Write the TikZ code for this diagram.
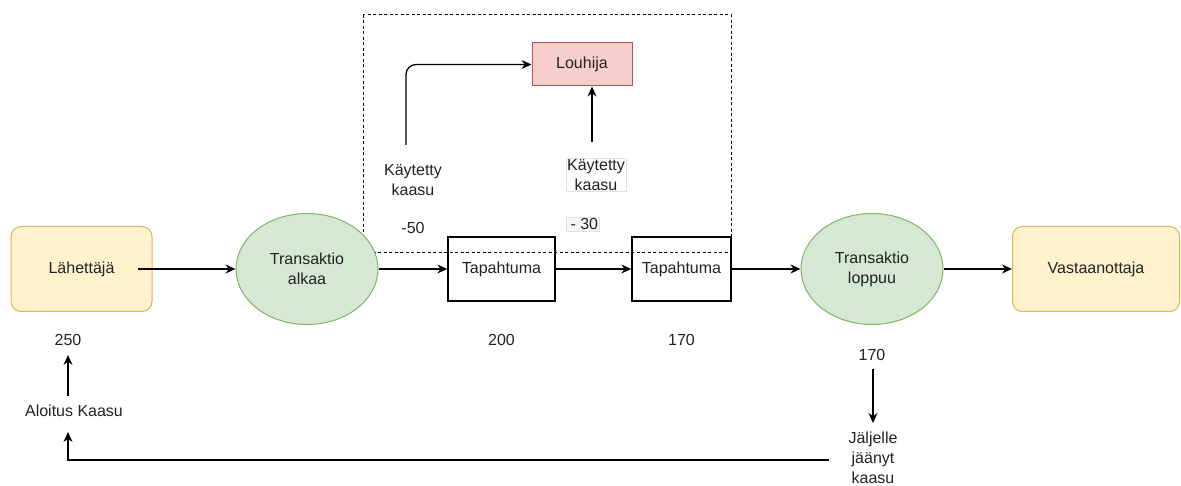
\documentclass[tikz,border=0pt]{standalone}
\usepackage{fontspec}
\setmainfont{Liberation Sans}
\usetikzlibrary{arrows.meta,shapes.geometric,calc}
\definecolor{yfill}{HTML}{FFF2CC}
\definecolor{ydraw}{HTML}{D6B656}
\definecolor{gfill}{HTML}{D5E8D4}
\definecolor{gdraw}{HTML}{82B366}
\definecolor{rfill}{HTML}{F8CECC}
\definecolor{rdraw}{HTML}{B85450}
\definecolor{txt}{HTML}{222222}
\begin{document}
\begin{tikzpicture}[x=1pt,y=-1pt,
  every node/.style={font=\fontsize{16}{20}\selectfont, text=txt, align=center},
  actor/.style={draw=ydraw, fill=yfill, rounded corners=10pt, line width=1pt, minimum width=141pt, minimum height=85pt},
  trans/.style={ellipse, draw=gdraw, fill=gfill, line width=1pt, minimum width=142pt, minimum height=111pt, inner sep=0pt},
  event/.style={draw=black, line width=1.3pt, minimum width=107pt, minimum height=64pt, inner sep=0pt},
  arr/.style={draw=black, line width=1.3pt, -{Stealth[length=10pt,width=9pt]}},
  lbl/.style={inner sep=1pt}
]
\useasboundingbox (0,0) rectangle (1181,486);
% dashed region
\draw[line width=1pt, dash pattern=on 3pt off 2.5pt] (363,15) rectangle (731,253);

\node[actor] (lah) at (81.5,269) {Lähettäjä};
\node[trans] (ta) at (307,269) {Transaktio\\alkaa};
\node[event] (t1) at (501.5,269) {Tapahtuma};
\node[event, minimum width=99pt] (t2) at (681.5,269) {Tapahtuma};
\node[trans] (tl) at (872,269) {Transaktio\\loppuu};
\node[actor, minimum width=167pt] (vas) at (1096,269) {Vastaanottaja};
\node[draw=rdraw, fill=rfill, line width=1pt, minimum width=100pt, minimum height=43pt] (lou) at (582,64.5) {Louhija};

\node[lbl] (kt1) at (413,180) {Käytetty\\kaasu};
\node[lbl] (m50) at (413,228) {-50};
\node[lbl, draw=black!12, fill=white, inner sep=1pt, line width=0.6pt] (kt2) at (596,175) {Käytetty\\kaasu};
\node[lbl, draw=black!12, fill=black!3, inner sep=1.5pt, line width=0.6pt] (m30) at (583,224) {\,- 30};

\node[lbl] (n250) at (68,340) {250};
\node[lbl] (alo) at (74,411) {Aloitus Kaasu};
\node[lbl] (n200) at (501.5,340) {200};
\node[lbl] (n170a) at (681.5,340) {170};
\node[lbl] (n170b) at (872,355) {170};
\node[lbl] (jj) at (873,458) {Jäljelle\\jäänyt\\kaasu};

\coordinate (lahout) at (138,269);
\coordinate (c1) at (406,145);
\coordinate (c2) at (592,142);
\coordinate (c3) at (873,369);
\coordinate (c3e) at (873,423);
\coordinate (c4) at (68,396);
\coordinate (c4e) at (68,355);
\coordinate (c5) at (829,460);
\coordinate (c5e) at (68,432);

\draw[arr] (lahout) -- (ta.west);
\draw[arr] (ta.east) -- (t1.west);
\draw[arr] (t1.east) -- (t2.west);
\draw[arr] (t2.east) -- (tl.west);
\draw[arr] (tl.east) -- (vas.west);
\draw[arr, rounded corners=10pt] (c1) |- (lou.west);
\draw[arr] (c2) -- (c2 |- lou.south);
\draw[arr] (c3) -- (c3e);
\draw[arr] (c4) -- (c4e);
\draw[arr] (c5) -| (c5e);
\end{tikzpicture}
\end{document}
